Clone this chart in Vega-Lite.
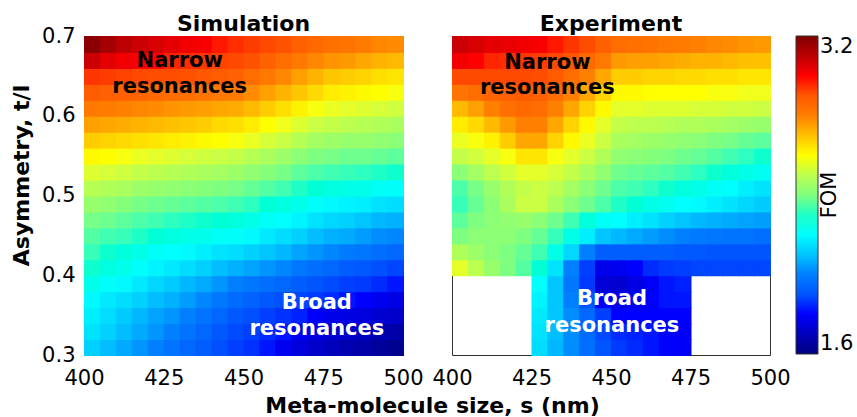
{
"$schema":"https://vega.github.io/schema/vega-lite/v6.json",
"padding":{"left":9,"top":12,"right":5,"bottom":5},
"bounds":"flush",
"spacing":49,
"config":{"font":"DejaVu Sans","view":{"stroke":"#333","strokeWidth":1},
"axis":{"labelFont":"DejaVu Sans","labelFontSize":21,"labelColor":"#000","titleFont":"DejaVu Sans","titleFontSize":22,"titleFontWeight":"bold","titleColor":"#000","ticks":false,"domain":false,"grid":false,"labelFlush":false},
"legend":{"type":"gradient","orient":"none","legendX":735,"legendY":0,"direction":"vertical","padding":0,"gradientLength":318,"gradientThickness":22,"labelFont":"DejaVu Sans","labelFontSize":21,"labelColor":"#000","labelOffset":4,"titleOrient":"left","titleAnchor":"middle","titleFont":"DejaVu Sans","titleFontSize":21,"titleFontWeight":"normal","titleColor":"#000","titlePadding":-44,"gradientStrokeColor":"#333","gradientStrokeWidth":1}},
"datasets":{
"notes":[
{"p":"S","x":430,"y":0.661,"t":"Narrow","k":"n"},
{"p":"S","x":430,"y":0.6285,"t":"resonances","k":"n"},
{"p":"S","x":473,"y":0.358,"t":"Broad","k":"b"},
{"p":"S","x":473,"y":0.325,"t":"resonances","k":"b"},
{"p":"E","x":430,"y":0.659,"t":"Narrow","k":"n"},
{"p":"E","x":430,"y":0.627,"t":"resonances","k":"n"},
{"p":"E","x":450.3,"y":0.3625,"t":"Broad","k":"b"},
{"p":"E","x":450.3,"y":0.329,"t":"resonances","k":"b"}
],
"sim":[
{"x":402.5,"y":0.31,"v":2.12},{"x":407.5,"y":0.31,"v":2.09},{"x":412.5,"y":0.31,"v":2.06},{"x":417.5,"y":0.31,"v":2.03},{"x":422.5,"y":0.31,"v":2.0},{"x":427.5,"y":0.31,"v":1.97},{"x":432.5,"y":0.31,"v":1.94},{"x":437.5,"y":0.31,"v":1.92},{"x":442.5,"y":0.31,"v":1.89},{"x":447.5,"y":0.31,"v":1.86},{"x":452.5,"y":0.31,"v":1.84},{"x":457.5,"y":0.31,"v":1.81},{"x":462.5,"y":0.31,"v":1.78},{"x":467.5,"y":0.31,"v":1.75},{"x":472.5,"y":0.31,"v":1.72},{"x":477.5,"y":0.31,"v":1.7},{"x":482.5,"y":0.31,"v":1.68},{"x":487.5,"y":0.31,"v":1.67},{"x":492.5,"y":0.31,"v":1.65},{"x":497.5,"y":0.31,"v":1.63},
{"x":402.5,"y":0.33,"v":2.15},{"x":407.5,"y":0.33,"v":2.12},{"x":412.5,"y":0.33,"v":2.09},{"x":417.5,"y":0.33,"v":2.06},{"x":422.5,"y":0.33,"v":2.03},{"x":427.5,"y":0.33,"v":2.0},{"x":432.5,"y":0.33,"v":1.97},{"x":437.5,"y":0.33,"v":1.94},{"x":442.5,"y":0.33,"v":1.91},{"x":447.5,"y":0.33,"v":1.88},{"x":452.5,"y":0.33,"v":1.86},{"x":457.5,"y":0.33,"v":1.83},{"x":462.5,"y":0.33,"v":1.81},{"x":467.5,"y":0.33,"v":1.78},{"x":472.5,"y":0.33,"v":1.75},{"x":477.5,"y":0.33,"v":1.73},{"x":482.5,"y":0.33,"v":1.72},{"x":487.5,"y":0.33,"v":1.7},{"x":492.5,"y":0.33,"v":1.68},{"x":497.5,"y":0.33,"v":1.67},
{"x":402.5,"y":0.35,"v":2.17},{"x":407.5,"y":0.35,"v":2.14},{"x":412.5,"y":0.35,"v":2.11},{"x":417.5,"y":0.35,"v":2.08},{"x":422.5,"y":0.35,"v":2.05},{"x":427.5,"y":0.35,"v":2.03},{"x":432.5,"y":0.35,"v":2.0},{"x":437.5,"y":0.35,"v":1.97},{"x":442.5,"y":0.35,"v":1.94},{"x":447.5,"y":0.35,"v":1.91},{"x":452.5,"y":0.35,"v":1.89},{"x":457.5,"y":0.35,"v":1.86},{"x":462.5,"y":0.35,"v":1.84},{"x":467.5,"y":0.35,"v":1.82},{"x":472.5,"y":0.35,"v":1.79},{"x":477.5,"y":0.35,"v":1.77},{"x":482.5,"y":0.35,"v":1.76},{"x":487.5,"y":0.35,"v":1.75},{"x":492.5,"y":0.35,"v":1.73},{"x":497.5,"y":0.35,"v":1.72},
{"x":402.5,"y":0.37,"v":2.19},{"x":407.5,"y":0.37,"v":2.16},{"x":412.5,"y":0.37,"v":2.14},{"x":417.5,"y":0.37,"v":2.12},{"x":422.5,"y":0.37,"v":2.09},{"x":427.5,"y":0.37,"v":2.07},{"x":432.5,"y":0.37,"v":2.04},{"x":437.5,"y":0.37,"v":2.01},{"x":442.5,"y":0.37,"v":1.98},{"x":447.5,"y":0.37,"v":1.95},{"x":452.5,"y":0.37,"v":1.93},{"x":457.5,"y":0.37,"v":1.91},{"x":462.5,"y":0.37,"v":1.89},{"x":467.5,"y":0.37,"v":1.87},{"x":472.5,"y":0.37,"v":1.85},{"x":477.5,"y":0.37,"v":1.83},{"x":482.5,"y":0.37,"v":1.81},{"x":487.5,"y":0.37,"v":1.8},{"x":492.5,"y":0.37,"v":1.78},{"x":497.5,"y":0.37,"v":1.76},
{"x":402.5,"y":0.39,"v":2.24},{"x":407.5,"y":0.39,"v":2.21},{"x":412.5,"y":0.39,"v":2.19},{"x":417.5,"y":0.39,"v":2.16},{"x":422.5,"y":0.39,"v":2.13},{"x":427.5,"y":0.39,"v":2.11},{"x":432.5,"y":0.39,"v":2.08},{"x":437.5,"y":0.39,"v":2.06},{"x":442.5,"y":0.39,"v":2.03},{"x":447.5,"y":0.39,"v":2.0},{"x":452.5,"y":0.39,"v":1.98},{"x":457.5,"y":0.39,"v":1.96},{"x":462.5,"y":0.39,"v":1.94},{"x":467.5,"y":0.39,"v":1.92},{"x":472.5,"y":0.39,"v":1.9},{"x":477.5,"y":0.39,"v":1.88},{"x":482.5,"y":0.39,"v":1.86},{"x":487.5,"y":0.39,"v":1.85},{"x":492.5,"y":0.39,"v":1.83},{"x":497.5,"y":0.39,"v":1.81},
{"x":402.5,"y":0.41,"v":2.29},{"x":407.5,"y":0.41,"v":2.26},{"x":412.5,"y":0.41,"v":2.24},{"x":417.5,"y":0.41,"v":2.21},{"x":422.5,"y":0.41,"v":2.18},{"x":427.5,"y":0.41,"v":2.16},{"x":432.5,"y":0.41,"v":2.14},{"x":437.5,"y":0.41,"v":2.12},{"x":442.5,"y":0.41,"v":2.09},{"x":447.5,"y":0.41,"v":2.07},{"x":452.5,"y":0.41,"v":2.05},{"x":457.5,"y":0.41,"v":2.03},{"x":462.5,"y":0.41,"v":2.01},{"x":467.5,"y":0.41,"v":1.98},{"x":472.5,"y":0.41,"v":1.96},{"x":477.5,"y":0.41,"v":1.94},{"x":482.5,"y":0.41,"v":1.92},{"x":487.5,"y":0.41,"v":1.91},{"x":492.5,"y":0.41,"v":1.89},{"x":497.5,"y":0.41,"v":1.87},
{"x":402.5,"y":0.43,"v":2.32},{"x":407.5,"y":0.43,"v":2.29},{"x":412.5,"y":0.43,"v":2.27},{"x":417.5,"y":0.43,"v":2.25},{"x":422.5,"y":0.43,"v":2.22},{"x":427.5,"y":0.43,"v":2.2},{"x":432.5,"y":0.43,"v":2.19},{"x":437.5,"y":0.43,"v":2.17},{"x":442.5,"y":0.43,"v":2.15},{"x":447.5,"y":0.43,"v":2.14},{"x":452.5,"y":0.43,"v":2.12},{"x":457.5,"y":0.43,"v":2.1},{"x":462.5,"y":0.43,"v":2.08},{"x":467.5,"y":0.43,"v":2.05},{"x":472.5,"y":0.43,"v":2.03},{"x":477.5,"y":0.43,"v":2.01},{"x":482.5,"y":0.43,"v":1.99},{"x":487.5,"y":0.43,"v":1.98},{"x":492.5,"y":0.43,"v":1.96},{"x":497.5,"y":0.43,"v":1.94},
{"x":402.5,"y":0.45,"v":2.35},{"x":407.5,"y":0.45,"v":2.33},{"x":412.5,"y":0.45,"v":2.32},{"x":417.5,"y":0.45,"v":2.3},{"x":422.5,"y":0.45,"v":2.28},{"x":427.5,"y":0.45,"v":2.26},{"x":432.5,"y":0.45,"v":2.25},{"x":437.5,"y":0.45,"v":2.24},{"x":442.5,"y":0.45,"v":2.22},{"x":447.5,"y":0.45,"v":2.21},{"x":452.5,"y":0.45,"v":2.19},{"x":457.5,"y":0.45,"v":2.16},{"x":462.5,"y":0.45,"v":2.14},{"x":467.5,"y":0.45,"v":2.12},{"x":472.5,"y":0.45,"v":2.09},{"x":477.5,"y":0.45,"v":2.07},{"x":482.5,"y":0.45,"v":2.06},{"x":487.5,"y":0.45,"v":2.04},{"x":492.5,"y":0.45,"v":2.02},{"x":497.5,"y":0.45,"v":2.01},
{"x":402.5,"y":0.47,"v":2.39},{"x":407.5,"y":0.47,"v":2.38},{"x":412.5,"y":0.47,"v":2.36},{"x":417.5,"y":0.47,"v":2.34},{"x":422.5,"y":0.47,"v":2.33},{"x":427.5,"y":0.47,"v":2.31},{"x":432.5,"y":0.47,"v":2.3},{"x":437.5,"y":0.47,"v":2.29},{"x":442.5,"y":0.47,"v":2.28},{"x":447.5,"y":0.47,"v":2.27},{"x":452.5,"y":0.47,"v":2.25},{"x":457.5,"y":0.47,"v":2.22},{"x":462.5,"y":0.47,"v":2.2},{"x":467.5,"y":0.47,"v":2.18},{"x":472.5,"y":0.47,"v":2.15},{"x":477.5,"y":0.47,"v":2.13},{"x":482.5,"y":0.47,"v":2.12},{"x":487.5,"y":0.47,"v":2.1},{"x":492.5,"y":0.47,"v":2.08},{"x":497.5,"y":0.47,"v":2.07},
{"x":402.5,"y":0.49,"v":2.44},{"x":407.5,"y":0.49,"v":2.43},{"x":412.5,"y":0.49,"v":2.41},{"x":417.5,"y":0.49,"v":2.39},{"x":422.5,"y":0.49,"v":2.38},{"x":427.5,"y":0.49,"v":2.37},{"x":432.5,"y":0.49,"v":2.36},{"x":437.5,"y":0.49,"v":2.35},{"x":442.5,"y":0.49,"v":2.34},{"x":447.5,"y":0.49,"v":2.33},{"x":452.5,"y":0.49,"v":2.31},{"x":457.5,"y":0.49,"v":2.28},{"x":462.5,"y":0.49,"v":2.26},{"x":467.5,"y":0.49,"v":2.24},{"x":472.5,"y":0.49,"v":2.21},{"x":477.5,"y":0.49,"v":2.19},{"x":482.5,"y":0.49,"v":2.18},{"x":487.5,"y":0.49,"v":2.17},{"x":492.5,"y":0.49,"v":2.15},{"x":497.5,"y":0.49,"v":2.14},
{"x":402.5,"y":0.51,"v":2.49},{"x":407.5,"y":0.51,"v":2.48},{"x":412.5,"y":0.51,"v":2.47},{"x":417.5,"y":0.51,"v":2.45},{"x":422.5,"y":0.51,"v":2.44},{"x":427.5,"y":0.51,"v":2.43},{"x":432.5,"y":0.51,"v":2.42},{"x":437.5,"y":0.51,"v":2.41},{"x":442.5,"y":0.51,"v":2.4},{"x":447.5,"y":0.51,"v":2.39},{"x":452.5,"y":0.51,"v":2.37},{"x":457.5,"y":0.51,"v":2.35},{"x":462.5,"y":0.51,"v":2.33},{"x":467.5,"y":0.51,"v":2.3},{"x":472.5,"y":0.51,"v":2.28},{"x":477.5,"y":0.51,"v":2.26},{"x":482.5,"y":0.51,"v":2.25},{"x":487.5,"y":0.51,"v":2.24},{"x":492.5,"y":0.51,"v":2.22},{"x":497.5,"y":0.51,"v":2.21},
{"x":402.5,"y":0.53,"v":2.55},{"x":407.5,"y":0.53,"v":2.54},{"x":412.5,"y":0.53,"v":2.53},{"x":417.5,"y":0.53,"v":2.51},{"x":422.5,"y":0.53,"v":2.5},{"x":427.5,"y":0.53,"v":2.49},{"x":432.5,"y":0.53,"v":2.48},{"x":437.5,"y":0.53,"v":2.47},{"x":442.5,"y":0.53,"v":2.46},{"x":447.5,"y":0.53,"v":2.45},{"x":452.5,"y":0.53,"v":2.43},{"x":457.5,"y":0.53,"v":2.41},{"x":462.5,"y":0.53,"v":2.39},{"x":467.5,"y":0.53,"v":2.36},{"x":472.5,"y":0.53,"v":2.34},{"x":477.5,"y":0.53,"v":2.33},{"x":482.5,"y":0.53,"v":2.32},{"x":487.5,"y":0.53,"v":2.31},{"x":492.5,"y":0.53,"v":2.3},{"x":497.5,"y":0.53,"v":2.29},
{"x":402.5,"y":0.55,"v":2.61},{"x":407.5,"y":0.55,"v":2.6},{"x":412.5,"y":0.55,"v":2.59},{"x":417.5,"y":0.55,"v":2.57},{"x":422.5,"y":0.55,"v":2.56},{"x":427.5,"y":0.55,"v":2.55},{"x":432.5,"y":0.55,"v":2.54},{"x":437.5,"y":0.55,"v":2.53},{"x":442.5,"y":0.55,"v":2.52},{"x":447.5,"y":0.55,"v":2.51},{"x":452.5,"y":0.55,"v":2.49},{"x":457.5,"y":0.55,"v":2.47},{"x":462.5,"y":0.55,"v":2.45},{"x":467.5,"y":0.55,"v":2.42},{"x":472.5,"y":0.55,"v":2.4},{"x":477.5,"y":0.55,"v":2.39},{"x":482.5,"y":0.55,"v":2.38},{"x":487.5,"y":0.55,"v":2.38},{"x":492.5,"y":0.55,"v":2.37},{"x":497.5,"y":0.55,"v":2.36},
{"x":402.5,"y":0.57,"v":2.68},{"x":407.5,"y":0.57,"v":2.67},{"x":412.5,"y":0.57,"v":2.66},{"x":417.5,"y":0.57,"v":2.65},{"x":422.5,"y":0.57,"v":2.64},{"x":427.5,"y":0.57,"v":2.63},{"x":432.5,"y":0.57,"v":2.62},{"x":437.5,"y":0.57,"v":2.61},{"x":442.5,"y":0.57,"v":2.6},{"x":447.5,"y":0.57,"v":2.59},{"x":452.5,"y":0.57,"v":2.57},{"x":457.5,"y":0.57,"v":2.54},{"x":462.5,"y":0.57,"v":2.52},{"x":467.5,"y":0.57,"v":2.49},{"x":472.5,"y":0.57,"v":2.46},{"x":477.5,"y":0.57,"v":2.45},{"x":482.5,"y":0.57,"v":2.44},{"x":487.5,"y":0.57,"v":2.44},{"x":492.5,"y":0.57,"v":2.43},{"x":497.5,"y":0.57,"v":2.42},
{"x":402.5,"y":0.59,"v":2.75},{"x":407.5,"y":0.59,"v":2.74},{"x":412.5,"y":0.59,"v":2.73},{"x":417.5,"y":0.59,"v":2.72},{"x":422.5,"y":0.59,"v":2.71},{"x":427.5,"y":0.59,"v":2.7},{"x":432.5,"y":0.59,"v":2.69},{"x":437.5,"y":0.59,"v":2.68},{"x":442.5,"y":0.59,"v":2.66},{"x":447.5,"y":0.59,"v":2.65},{"x":452.5,"y":0.59,"v":2.63},{"x":457.5,"y":0.59,"v":2.6},{"x":462.5,"y":0.59,"v":2.58},{"x":467.5,"y":0.59,"v":2.55},{"x":472.5,"y":0.59,"v":2.52},{"x":477.5,"y":0.59,"v":2.51},{"x":482.5,"y":0.59,"v":2.5},{"x":487.5,"y":0.59,"v":2.49},{"x":492.5,"y":0.59,"v":2.48},{"x":497.5,"y":0.59,"v":2.47},
{"x":402.5,"y":0.61,"v":2.82},{"x":407.5,"y":0.61,"v":2.81},{"x":412.5,"y":0.61,"v":2.8},{"x":417.5,"y":0.61,"v":2.79},{"x":422.5,"y":0.61,"v":2.78},{"x":427.5,"y":0.61,"v":2.77},{"x":432.5,"y":0.61,"v":2.76},{"x":437.5,"y":0.61,"v":2.75},{"x":442.5,"y":0.61,"v":2.74},{"x":447.5,"y":0.61,"v":2.73},{"x":452.5,"y":0.61,"v":2.71},{"x":457.5,"y":0.61,"v":2.68},{"x":462.5,"y":0.61,"v":2.65},{"x":467.5,"y":0.61,"v":2.62},{"x":472.5,"y":0.61,"v":2.59},{"x":477.5,"y":0.61,"v":2.57},{"x":482.5,"y":0.61,"v":2.56},{"x":487.5,"y":0.61,"v":2.55},{"x":492.5,"y":0.61,"v":2.54},{"x":497.5,"y":0.61,"v":2.53},
{"x":402.5,"y":0.63,"v":2.89},{"x":407.5,"y":0.63,"v":2.88},{"x":412.5,"y":0.63,"v":2.88},{"x":417.5,"y":0.63,"v":2.87},{"x":422.5,"y":0.63,"v":2.86},{"x":427.5,"y":0.63,"v":2.85},{"x":432.5,"y":0.63,"v":2.84},{"x":437.5,"y":0.63,"v":2.83},{"x":442.5,"y":0.63,"v":2.82},{"x":447.5,"y":0.63,"v":2.81},{"x":452.5,"y":0.63,"v":2.78},{"x":457.5,"y":0.63,"v":2.75},{"x":462.5,"y":0.63,"v":2.72},{"x":467.5,"y":0.63,"v":2.69},{"x":472.5,"y":0.63,"v":2.66},{"x":477.5,"y":0.63,"v":2.63},{"x":482.5,"y":0.63,"v":2.62},{"x":487.5,"y":0.63,"v":2.61},{"x":492.5,"y":0.63,"v":2.6},{"x":497.5,"y":0.63,"v":2.59},
{"x":402.5,"y":0.65,"v":2.96},{"x":407.5,"y":0.65,"v":2.95},{"x":412.5,"y":0.65,"v":2.94},{"x":417.5,"y":0.65,"v":2.93},{"x":422.5,"y":0.65,"v":2.92},{"x":427.5,"y":0.65,"v":2.92},{"x":432.5,"y":0.65,"v":2.91},{"x":437.5,"y":0.65,"v":2.9},{"x":442.5,"y":0.65,"v":2.89},{"x":447.5,"y":0.65,"v":2.88},{"x":452.5,"y":0.65,"v":2.85},{"x":457.5,"y":0.65,"v":2.82},{"x":462.5,"y":0.65,"v":2.79},{"x":467.5,"y":0.65,"v":2.75},{"x":472.5,"y":0.65,"v":2.72},{"x":477.5,"y":0.65,"v":2.69},{"x":482.5,"y":0.65,"v":2.68},{"x":487.5,"y":0.65,"v":2.67},{"x":492.5,"y":0.65,"v":2.65},{"x":497.5,"y":0.65,"v":2.64},
{"x":402.5,"y":0.67,"v":3.08},{"x":407.5,"y":0.67,"v":3.04},{"x":412.5,"y":0.67,"v":3.02},{"x":417.5,"y":0.67,"v":3.01},{"x":422.5,"y":0.67,"v":3.0},{"x":427.5,"y":0.67,"v":2.98},{"x":432.5,"y":0.67,"v":2.97},{"x":437.5,"y":0.67,"v":2.96},{"x":442.5,"y":0.67,"v":2.94},{"x":447.5,"y":0.67,"v":2.93},{"x":452.5,"y":0.67,"v":2.91},{"x":457.5,"y":0.67,"v":2.88},{"x":462.5,"y":0.67,"v":2.85},{"x":467.5,"y":0.67,"v":2.82},{"x":472.5,"y":0.67,"v":2.79},{"x":477.5,"y":0.67,"v":2.77},{"x":482.5,"y":0.67,"v":2.76},{"x":487.5,"y":0.67,"v":2.74},{"x":492.5,"y":0.67,"v":2.72},{"x":497.5,"y":0.67,"v":2.71},
{"x":402.5,"y":0.69,"v":3.18},{"x":407.5,"y":0.69,"v":3.14},{"x":412.5,"y":0.69,"v":3.1},{"x":417.5,"y":0.69,"v":3.08},{"x":422.5,"y":0.69,"v":3.06},{"x":427.5,"y":0.69,"v":3.04},{"x":432.5,"y":0.69,"v":3.02},{"x":437.5,"y":0.69,"v":3.01},{"x":442.5,"y":0.69,"v":2.99},{"x":447.5,"y":0.69,"v":2.97},{"x":452.5,"y":0.69,"v":2.95},{"x":457.5,"y":0.69,"v":2.93},{"x":462.5,"y":0.69,"v":2.91},{"x":467.5,"y":0.69,"v":2.88},{"x":472.5,"y":0.69,"v":2.86},{"x":477.5,"y":0.69,"v":2.84},{"x":482.5,"y":0.69,"v":2.83},{"x":487.5,"y":0.69,"v":2.81},{"x":492.5,"y":0.69,"v":2.79},{"x":497.5,"y":0.69,"v":2.78}
],
"exp":[
{"x":427.5,"y":0.31,"v":2.14},{"x":432.5,"y":0.31,"v":2.08},{"x":437.5,"y":0.31,"v":2.02},{"x":442.5,"y":0.31,"v":1.96},{"x":447.5,"y":0.31,"v":1.9},{"x":452.5,"y":0.31,"v":1.85},{"x":457.5,"y":0.31,"v":1.83},{"x":462.5,"y":0.31,"v":1.81},{"x":467.5,"y":0.31,"v":1.8},{"x":472.5,"y":0.31,"v":1.79},
{"x":427.5,"y":0.33,"v":2.15},{"x":432.5,"y":0.33,"v":2.09},{"x":437.5,"y":0.33,"v":2.02},{"x":442.5,"y":0.33,"v":1.95},{"x":447.5,"y":0.33,"v":1.88},{"x":452.5,"y":0.33,"v":1.83},{"x":457.5,"y":0.33,"v":1.82},{"x":462.5,"y":0.33,"v":1.81},{"x":467.5,"y":0.33,"v":1.8},{"x":472.5,"y":0.33,"v":1.79},
{"x":427.5,"y":0.35,"v":2.16},{"x":432.5,"y":0.35,"v":2.1},{"x":437.5,"y":0.35,"v":2.02},{"x":442.5,"y":0.35,"v":1.94},{"x":447.5,"y":0.35,"v":1.86},{"x":452.5,"y":0.35,"v":1.8},{"x":457.5,"y":0.35,"v":1.8},{"x":462.5,"y":0.35,"v":1.8},{"x":467.5,"y":0.35,"v":1.8},{"x":472.5,"y":0.35,"v":1.8},
{"x":427.5,"y":0.37,"v":2.18},{"x":432.5,"y":0.37,"v":2.1},{"x":437.5,"y":0.37,"v":2.0},{"x":442.5,"y":0.37,"v":1.9},{"x":447.5,"y":0.37,"v":1.8},{"x":452.5,"y":0.37,"v":1.77},{"x":457.5,"y":0.37,"v":1.78},{"x":462.5,"y":0.37,"v":1.8},{"x":467.5,"y":0.37,"v":1.81},{"x":472.5,"y":0.37,"v":1.81},
{"x":427.5,"y":0.39,"v":2.2},{"x":432.5,"y":0.39,"v":2.1},{"x":437.5,"y":0.39,"v":1.98},{"x":442.5,"y":0.39,"v":1.85},{"x":447.5,"y":0.39,"v":1.74},{"x":452.5,"y":0.39,"v":1.73},{"x":457.5,"y":0.39,"v":1.76},{"x":462.5,"y":0.39,"v":1.79},{"x":467.5,"y":0.39,"v":1.81},{"x":472.5,"y":0.39,"v":1.82},
{"x":402.5,"y":0.41,"v":2.56},{"x":407.5,"y":0.41,"v":2.5},{"x":412.5,"y":0.41,"v":2.44},{"x":417.5,"y":0.41,"v":2.4},{"x":422.5,"y":0.41,"v":2.35},{"x":427.5,"y":0.41,"v":2.28},{"x":432.5,"y":0.41,"v":2.15},{"x":437.5,"y":0.41,"v":2.0},{"x":442.5,"y":0.41,"v":1.86},{"x":447.5,"y":0.41,"v":1.77},{"x":452.5,"y":0.41,"v":1.78},{"x":457.5,"y":0.41,"v":1.8},{"x":462.5,"y":0.41,"v":1.83},{"x":467.5,"y":0.41,"v":1.85},{"x":472.5,"y":0.41,"v":1.86},{"x":477.5,"y":0.41,"v":1.87},{"x":482.5,"y":0.41,"v":1.87},{"x":487.5,"y":0.41,"v":1.87},{"x":492.5,"y":0.41,"v":1.87},{"x":497.5,"y":0.41,"v":1.87},
{"x":402.5,"y":0.43,"v":2.48},{"x":407.5,"y":0.43,"v":2.45},{"x":412.5,"y":0.43,"v":2.42},{"x":417.5,"y":0.43,"v":2.4},{"x":422.5,"y":0.43,"v":2.37},{"x":427.5,"y":0.43,"v":2.33},{"x":432.5,"y":0.43,"v":2.25},{"x":437.5,"y":0.43,"v":2.13},{"x":442.5,"y":0.43,"v":2.0},{"x":447.5,"y":0.43,"v":1.92},{"x":452.5,"y":0.43,"v":1.92},{"x":457.5,"y":0.43,"v":1.92},{"x":462.5,"y":0.43,"v":1.92},{"x":467.5,"y":0.43,"v":1.92},{"x":472.5,"y":0.43,"v":1.91},{"x":477.5,"y":0.43,"v":1.91},{"x":482.5,"y":0.43,"v":1.9},{"x":487.5,"y":0.43,"v":1.9},{"x":492.5,"y":0.43,"v":1.9},{"x":497.5,"y":0.43,"v":1.9},
{"x":402.5,"y":0.45,"v":2.4},{"x":407.5,"y":0.45,"v":2.42},{"x":412.5,"y":0.45,"v":2.42},{"x":417.5,"y":0.45,"v":2.42},{"x":422.5,"y":0.45,"v":2.4},{"x":427.5,"y":0.45,"v":2.37},{"x":432.5,"y":0.45,"v":2.32},{"x":437.5,"y":0.45,"v":2.25},{"x":442.5,"y":0.45,"v":2.17},{"x":447.5,"y":0.45,"v":2.1},{"x":452.5,"y":0.45,"v":2.08},{"x":457.5,"y":0.45,"v":2.06},{"x":462.5,"y":0.45,"v":2.04},{"x":467.5,"y":0.45,"v":2.02},{"x":472.5,"y":0.45,"v":2.0},{"x":477.5,"y":0.45,"v":1.99},{"x":482.5,"y":0.45,"v":1.98},{"x":487.5,"y":0.45,"v":1.97},{"x":492.5,"y":0.45,"v":1.97},{"x":497.5,"y":0.45,"v":1.96},
{"x":402.5,"y":0.47,"v":2.36},{"x":407.5,"y":0.47,"v":2.4},{"x":412.5,"y":0.47,"v":2.42},{"x":417.5,"y":0.47,"v":2.43},{"x":422.5,"y":0.47,"v":2.44},{"x":427.5,"y":0.47,"v":2.42},{"x":432.5,"y":0.47,"v":2.38},{"x":437.5,"y":0.47,"v":2.33},{"x":442.5,"y":0.47,"v":2.27},{"x":447.5,"y":0.47,"v":2.22},{"x":452.5,"y":0.47,"v":2.2},{"x":457.5,"y":0.47,"v":2.17},{"x":462.5,"y":0.47,"v":2.15},{"x":467.5,"y":0.47,"v":2.12},{"x":472.5,"y":0.47,"v":2.1},{"x":477.5,"y":0.47,"v":2.08},{"x":482.5,"y":0.47,"v":2.07},{"x":487.5,"y":0.47,"v":2.06},{"x":492.5,"y":0.47,"v":2.05},{"x":497.5,"y":0.47,"v":2.04},
{"x":402.5,"y":0.49,"v":2.32},{"x":407.5,"y":0.49,"v":2.37},{"x":412.5,"y":0.49,"v":2.42},{"x":417.5,"y":0.49,"v":2.47},{"x":422.5,"y":0.49,"v":2.52},{"x":427.5,"y":0.49,"v":2.52},{"x":432.5,"y":0.49,"v":2.47},{"x":437.5,"y":0.49,"v":2.42},{"x":442.5,"y":0.49,"v":2.38},{"x":447.5,"y":0.49,"v":2.34},{"x":452.5,"y":0.49,"v":2.3},{"x":457.5,"y":0.49,"v":2.28},{"x":462.5,"y":0.49,"v":2.25},{"x":467.5,"y":0.49,"v":2.23},{"x":472.5,"y":0.49,"v":2.2},{"x":477.5,"y":0.49,"v":2.19},{"x":482.5,"y":0.49,"v":2.17},{"x":487.5,"y":0.49,"v":2.15},{"x":492.5,"y":0.49,"v":2.13},{"x":497.5,"y":0.49,"v":2.11},
{"x":402.5,"y":0.51,"v":2.34},{"x":407.5,"y":0.51,"v":2.39},{"x":412.5,"y":0.51,"v":2.44},{"x":417.5,"y":0.51,"v":2.48},{"x":422.5,"y":0.51,"v":2.51},{"x":427.5,"y":0.51,"v":2.52},{"x":432.5,"y":0.51,"v":2.5},{"x":437.5,"y":0.51,"v":2.46},{"x":442.5,"y":0.51,"v":2.42},{"x":447.5,"y":0.51,"v":2.38},{"x":452.5,"y":0.51,"v":2.34},{"x":457.5,"y":0.51,"v":2.33},{"x":462.5,"y":0.51,"v":2.31},{"x":467.5,"y":0.51,"v":2.29},{"x":472.5,"y":0.51,"v":2.27},{"x":477.5,"y":0.51,"v":2.25},{"x":482.5,"y":0.51,"v":2.22},{"x":487.5,"y":0.51,"v":2.2},{"x":492.5,"y":0.51,"v":2.17},{"x":497.5,"y":0.51,"v":2.15},
{"x":402.5,"y":0.53,"v":2.42},{"x":407.5,"y":0.53,"v":2.46},{"x":412.5,"y":0.53,"v":2.5},{"x":417.5,"y":0.53,"v":2.53},{"x":422.5,"y":0.53,"v":2.56},{"x":427.5,"y":0.53,"v":2.56},{"x":432.5,"y":0.53,"v":2.54},{"x":437.5,"y":0.53,"v":2.51},{"x":442.5,"y":0.53,"v":2.47},{"x":447.5,"y":0.53,"v":2.43},{"x":452.5,"y":0.53,"v":2.38},{"x":457.5,"y":0.53,"v":2.37},{"x":462.5,"y":0.53,"v":2.36},{"x":467.5,"y":0.53,"v":2.35},{"x":472.5,"y":0.53,"v":2.33},{"x":477.5,"y":0.53,"v":2.31},{"x":482.5,"y":0.53,"v":2.29},{"x":487.5,"y":0.53,"v":2.27},{"x":492.5,"y":0.53,"v":2.25},{"x":497.5,"y":0.53,"v":2.23},
{"x":402.5,"y":0.55,"v":2.51},{"x":407.5,"y":0.55,"v":2.53},{"x":412.5,"y":0.55,"v":2.56},{"x":417.5,"y":0.55,"v":2.59},{"x":422.5,"y":0.55,"v":2.64},{"x":427.5,"y":0.55,"v":2.64},{"x":432.5,"y":0.55,"v":2.59},{"x":437.5,"y":0.55,"v":2.56},{"x":442.5,"y":0.55,"v":2.52},{"x":447.5,"y":0.55,"v":2.48},{"x":452.5,"y":0.55,"v":2.43},{"x":457.5,"y":0.55,"v":2.42},{"x":462.5,"y":0.55,"v":2.41},{"x":467.5,"y":0.55,"v":2.4},{"x":472.5,"y":0.55,"v":2.38},{"x":477.5,"y":0.55,"v":2.37},{"x":482.5,"y":0.55,"v":2.35},{"x":487.5,"y":0.55,"v":2.33},{"x":492.5,"y":0.55,"v":2.31},{"x":497.5,"y":0.55,"v":2.29},
{"x":402.5,"y":0.57,"v":2.57},{"x":407.5,"y":0.57,"v":2.59},{"x":412.5,"y":0.57,"v":2.62},{"x":417.5,"y":0.57,"v":2.68},{"x":422.5,"y":0.57,"v":2.74},{"x":427.5,"y":0.57,"v":2.74},{"x":432.5,"y":0.57,"v":2.67},{"x":437.5,"y":0.57,"v":2.61},{"x":442.5,"y":0.57,"v":2.57},{"x":447.5,"y":0.57,"v":2.52},{"x":452.5,"y":0.57,"v":2.47},{"x":457.5,"y":0.57,"v":2.46},{"x":462.5,"y":0.57,"v":2.45},{"x":467.5,"y":0.57,"v":2.44},{"x":472.5,"y":0.57,"v":2.43},{"x":477.5,"y":0.57,"v":2.42},{"x":482.5,"y":0.57,"v":2.4},{"x":487.5,"y":0.57,"v":2.39},{"x":492.5,"y":0.57,"v":2.37},{"x":497.5,"y":0.57,"v":2.36},
{"x":402.5,"y":0.59,"v":2.63},{"x":407.5,"y":0.59,"v":2.66},{"x":412.5,"y":0.59,"v":2.71},{"x":417.5,"y":0.59,"v":2.76},{"x":422.5,"y":0.59,"v":2.8},{"x":427.5,"y":0.59,"v":2.8},{"x":432.5,"y":0.59,"v":2.74},{"x":437.5,"y":0.59,"v":2.67},{"x":442.5,"y":0.59,"v":2.61},{"x":447.5,"y":0.59,"v":2.56},{"x":452.5,"y":0.59,"v":2.51},{"x":457.5,"y":0.59,"v":2.5},{"x":462.5,"y":0.59,"v":2.5},{"x":467.5,"y":0.59,"v":2.49},{"x":472.5,"y":0.59,"v":2.48},{"x":477.5,"y":0.59,"v":2.48},{"x":482.5,"y":0.59,"v":2.47},{"x":487.5,"y":0.59,"v":2.46},{"x":492.5,"y":0.59,"v":2.45},{"x":497.5,"y":0.59,"v":2.44},
{"x":402.5,"y":0.61,"v":2.71},{"x":407.5,"y":0.61,"v":2.75},{"x":412.5,"y":0.61,"v":2.8},{"x":417.5,"y":0.61,"v":2.84},{"x":422.5,"y":0.61,"v":2.86},{"x":427.5,"y":0.61,"v":2.85},{"x":432.5,"y":0.61,"v":2.8},{"x":437.5,"y":0.61,"v":2.74},{"x":442.5,"y":0.61,"v":2.67},{"x":447.5,"y":0.61,"v":2.61},{"x":452.5,"y":0.61,"v":2.56},{"x":457.5,"y":0.61,"v":2.56},{"x":462.5,"y":0.61,"v":2.55},{"x":467.5,"y":0.61,"v":2.55},{"x":472.5,"y":0.61,"v":2.55},{"x":477.5,"y":0.61,"v":2.54},{"x":482.5,"y":0.61,"v":2.54},{"x":487.5,"y":0.61,"v":2.53},{"x":492.5,"y":0.61,"v":2.53},{"x":497.5,"y":0.61,"v":2.52},
{"x":402.5,"y":0.63,"v":2.83},{"x":407.5,"y":0.63,"v":2.85},{"x":412.5,"y":0.63,"v":2.87},{"x":417.5,"y":0.63,"v":2.88},{"x":422.5,"y":0.63,"v":2.89},{"x":427.5,"y":0.63,"v":2.88},{"x":432.5,"y":0.63,"v":2.85},{"x":437.5,"y":0.63,"v":2.8},{"x":442.5,"y":0.63,"v":2.74},{"x":447.5,"y":0.63,"v":2.67},{"x":452.5,"y":0.63,"v":2.61},{"x":457.5,"y":0.63,"v":2.61},{"x":462.5,"y":0.63,"v":2.6},{"x":467.5,"y":0.63,"v":2.6},{"x":472.5,"y":0.63,"v":2.6},{"x":477.5,"y":0.63,"v":2.6},{"x":482.5,"y":0.63,"v":2.59},{"x":487.5,"y":0.63,"v":2.59},{"x":492.5,"y":0.63,"v":2.58},{"x":497.5,"y":0.63,"v":2.58},
{"x":402.5,"y":0.65,"v":2.93},{"x":407.5,"y":0.65,"v":2.93},{"x":412.5,"y":0.65,"v":2.93},{"x":417.5,"y":0.65,"v":2.93},{"x":422.5,"y":0.65,"v":2.93},{"x":427.5,"y":0.65,"v":2.92},{"x":432.5,"y":0.65,"v":2.89},{"x":437.5,"y":0.65,"v":2.85},{"x":442.5,"y":0.65,"v":2.8},{"x":447.5,"y":0.65,"v":2.74},{"x":452.5,"y":0.65,"v":2.68},{"x":457.5,"y":0.65,"v":2.68},{"x":462.5,"y":0.65,"v":2.67},{"x":467.5,"y":0.65,"v":2.67},{"x":472.5,"y":0.65,"v":2.66},{"x":477.5,"y":0.65,"v":2.66},{"x":482.5,"y":0.65,"v":2.65},{"x":487.5,"y":0.65,"v":2.65},{"x":492.5,"y":0.65,"v":2.64},{"x":497.5,"y":0.65,"v":2.64},
{"x":402.5,"y":0.67,"v":3.02},{"x":407.5,"y":0.67,"v":3.0},{"x":412.5,"y":0.67,"v":2.98},{"x":417.5,"y":0.67,"v":2.97},{"x":422.5,"y":0.67,"v":2.96},{"x":427.5,"y":0.67,"v":2.95},{"x":432.5,"y":0.67,"v":2.93},{"x":437.5,"y":0.67,"v":2.9},{"x":442.5,"y":0.67,"v":2.86},{"x":447.5,"y":0.67,"v":2.82},{"x":452.5,"y":0.67,"v":2.76},{"x":457.5,"y":0.67,"v":2.75},{"x":462.5,"y":0.67,"v":2.75},{"x":467.5,"y":0.67,"v":2.74},{"x":472.5,"y":0.67,"v":2.73},{"x":477.5,"y":0.67,"v":2.72},{"x":482.5,"y":0.67,"v":2.72},{"x":487.5,"y":0.67,"v":2.71},{"x":492.5,"y":0.67,"v":2.7},{"x":497.5,"y":0.67,"v":2.7},
{"x":402.5,"y":0.69,"v":3.08},{"x":407.5,"y":0.69,"v":3.06},{"x":412.5,"y":0.69,"v":3.04},{"x":417.5,"y":0.69,"v":3.03},{"x":422.5,"y":0.69,"v":3.02},{"x":427.5,"y":0.69,"v":3.01},{"x":432.5,"y":0.69,"v":2.99},{"x":437.5,"y":0.69,"v":2.96},{"x":442.5,"y":0.69,"v":2.92},{"x":447.5,"y":0.69,"v":2.88},{"x":452.5,"y":0.69,"v":2.85},{"x":457.5,"y":0.69,"v":2.84},{"x":462.5,"y":0.69,"v":2.83},{"x":467.5,"y":0.69,"v":2.82},{"x":472.5,"y":0.69,"v":2.81},{"x":477.5,"y":0.69,"v":2.8},{"x":482.5,"y":0.69,"v":2.79},{"x":487.5,"y":0.69,"v":2.78},{"x":492.5,"y":0.69,"v":2.77},{"x":497.5,"y":0.69,"v":2.76}
]
},
"hconcat":[
{"width":319,"height":319,
"title":{"text":"Simulation","offset":-11,"fontSize":22,"fontWeight":"bold","color":"#000","font":"DejaVu Sans","anchor":"middle"},
"layer":[
{"data":{"name":"sim"},
"mark":{"type":"rect","binSpacing":0,"xOffset":0.5,"x2Offset":-0.5,"yOffset":-0.5,"y2Offset":0.5},
"encoding":{
"x":{"field":"x","type":"quantitative","bin":{"step":5,"extent":[400,500],"nice":false},"scale":{"domain":[400,500],"nice":false,"zero":false},
"axis":{"values":[400,425,450,475,500],"format":"d","labelPadding":12,"title":"Meta-molecule size, s (nm)","titleX":348,"titleY":57,"titleBaseline":"alphabetic"}},
"y":{"field":"y","type":"quantitative","bin":{"step":0.02,"extent":[0.3,0.7],"nice":false},"scale":{"domain":[0.3,0.7],"nice":false,"zero":false},
"axis":{"values":[0.3,0.4,0.5,0.6,0.7],"format":".1f","labelPadding":9,"title":"Asymmetry, t/l","titleX":-56,"titleY":139,"titleBaseline":"alphabetic","titleAlign":"center"}},
"color":{"field":"v","type":"quantitative",
"scale":{"domain":[1.6,1.8,2.0,2.2,2.4,2.6,2.8,3.0,3.2],"range":["#00007f","#0000ff","#007fff","#00ffff","#7fff7f","#ffff00","#ff7f00","#ff0000","#7f0000"]},
"legend":{"type":"gradient","values":[1.6,3.2],"format":".1f","title":"FOM"}}
}},
{"data":{"name":"notes"},"transform":[{"filter":"datum.p==='S'"}],
"mark":{"type":"text","fontSize":21,"fontWeight":"bold","align":"center","baseline":"alphabetic","font":"DejaVu Sans"},
"encoding":{"x":{"field":"x","type":"quantitative"},"y":{"field":"y","type":"quantitative"},"text":{"field":"t","type":"nominal"},
"color":{"condition":{"test":"datum.k==='b'","value":"#ffffff"},"value":"#000000"}}}
]},
{"width":318,"height":319,
"title":{"text":"Experiment","offset":0,"fontSize":22,"fontWeight":"bold","color":"#000","font":"DejaVu Sans","anchor":"middle"},
"layer":[
{"data":{"name":"exp"},
"mark":{"type":"rect","binSpacing":0,"xOffset":0.5,"x2Offset":-0.5,"yOffset":-0.5,"y2Offset":0.5},
"encoding":{
"x":{"field":"x","type":"quantitative","bin":{"step":5,"extent":[400,500],"nice":false},"scale":{"domain":[400,500],"nice":false,"zero":false},
"axis":{"values":[400,425,450,475,500],"format":"d","labelPadding":12,"title":null}},
"y":{"field":"y","type":"quantitative","bin":{"step":0.02,"extent":[0.3,0.7],"nice":false},"scale":{"domain":[0.3,0.7],"nice":false,"zero":false},"axis":null},
"color":{"field":"v","type":"quantitative",
"scale":{"domain":[1.6,1.8,2.0,2.2,2.4,2.6,2.8,3.0,3.2],"range":["#00007f","#0000ff","#007fff","#00ffff","#7fff7f","#ffff00","#ff7f00","#ff0000","#7f0000"]},
"legend":{"type":"gradient","values":[1.6,3.2],"format":".1f","title":"FOM"}}
}},
{"data":{"name":"notes"},"transform":[{"filter":"datum.p==='E'"}],
"mark":{"type":"text","fontSize":21,"fontWeight":"bold","align":"center","baseline":"alphabetic","font":"DejaVu Sans"},
"encoding":{"x":{"field":"x","type":"quantitative"},"y":{"field":"y","type":"quantitative"},"text":{"field":"t","type":"nominal"},
"color":{"condition":{"test":"datum.k==='b'","value":"#ffffff"},"value":"#000000"}}}
]}
],
"resolve":{"scale":{"color":"shared"}}
}
